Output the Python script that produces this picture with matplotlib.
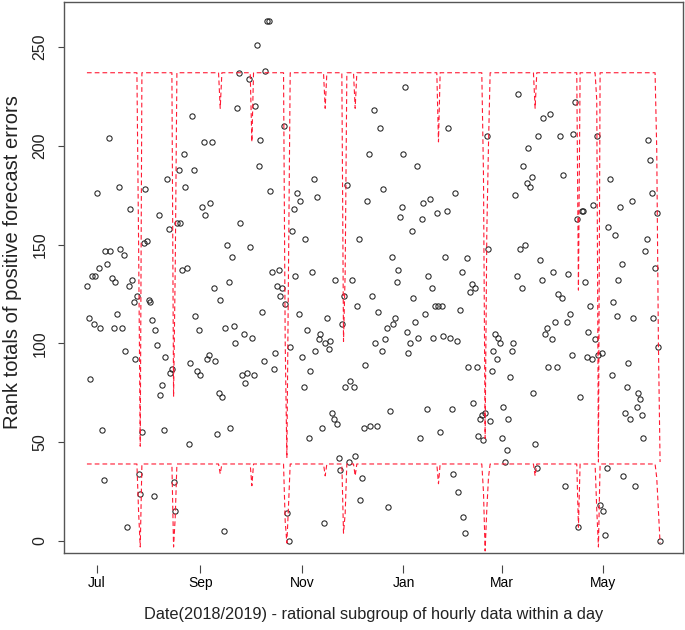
import numpy as np
import pandas as pd
import matplotlib
matplotlib.use("Agg")
import matplotlib.pyplot as plt
import matplotlib.dates as mdates

plt.rcParams['font.family'] = ['Liberation Sans', 'DejaVu Sans']
plt.rcParams['lines.scale_dashes'] = False

# ---- data: one rank total per day, starting 2018-06-25 ----
start_date = "2018-06-25"

rank_jul_sep_2018 = [
    129, 113, 82, 134, 110, 134, 176, 138, 108, 56,
    31, 147, 140, 204, 147, 133, 108, 131, 115, 179,
    148, 108, 145, 96, 7, 129, 168, 132, 121, 92,
    124, 34, 24, 55, 151, 178, 152, 122, 121, 112,
    23, 107, 99, 165, 74, 79, 56, 93, 183, 158,
    85, 87, 30, 15, 161, 188, 161, 137, 196, 179,
    138, 49, 90, 215, 188, 114, 86, 107, 84, 169,
    202, 165, 92, 94, 171, 202, 128, 91, 54, 75,
    122, 73, 5, 108, 150, 131, 57, 144, 109, 100,
    219, 237, 161, 84, 105, 80, 85, 234]

rank_oct_dec_2018 = [
    149, 103,
    84, 220, 251, 190, 203, 116, 91, 238, 263, 263,
    177, 136, 87, 95, 129, 137, 124, 128, 210, 120,
    14, 0, 98, 157, 168, 134, 176, 115, 172, 93,
    78, 153, 107, 52, 86, 136, 183, 96, 174, 102,
    105, 57, 9, 100, 113, 97, 101, 65, 62, 132,
    59, 42, 36, 110, 124, 78, 180, 40, 81, 132,
    78, 43, 119, 153, 21, 32, 57, 89, 172, 196,
    58, 124, 218, 100, 58, 116, 209, 96, 178, 102,
    108, 17, 66, 144, 110, 113, 131, 137, 164, 169]

rank_jan_mar_2019 = [
    196, 230, 106, 95, 100, 157, 123, 111, 190, 103,
    52, 163, 171, 115, 67, 134, 173, 128, 103, 119,
    166, 119, 55, 119, 104, 144, 167, 209, 103, 67,
    34, 176, 101, 25, 117, 136, 12, 4, 143, 88,
    126, 130, 70, 128, 88, 53, 62, 64, 51, 65,
    205, 148, 61, 86, 96, 105, 92, 103, 100, 52,
    68, 40, 46, 62, 83, 96, 100, 175, 134, 226,
    148, 128, 190, 150, 181, 199, 179, 184, 75, 49,
    37, 205, 142, 132, 214, 105, 108, 88, 216, 102]

rank_apr_jun_2019 = [
    136, 111, 88, 125, 205, 123, 185, 28, 111, 135,
    115, 94, 206, 222, 163, 7, 73, 167, 167, 131,
    93, 106, 119, 92, 170, 102, 205, 94, 18, 95,
    15, 3, 37, 159, 183, 84, 121, 155, 114, 132,
    169, 140, 33, 65, 78, 90, 62, 172, 113, 28,
    68, 75, 72, 64, 52, 147, 153, 203, 193, 176,
    113, 138, 166, 98, 0]

# control limits (constant, with dips on days with smaller subgroups)
ucl_base = 237
lcl_base = 39
dip_days = [31, 32, 52, 53, 80, 99, 119, 120, 121, 143, 154, 155, 161, 211,
            238, 239, 240, 241, 269, 295, 306, 307, 342, 343, 344]
ucl_dip_vals = [152, 48, 73, 138, 219, 202, 101, 42, 142, 219, 101, 136, 219, 202,
                186, 52, 156, 200, 219, 127, 223, 40, 198, 100, 40]
lcl_dip_vals = [15, -3, -3, 12, 34, 28, 10, -1, 18, 33, 4, 14, 33, 29,
                25, -5, 16, 32, 33, 7, 16, -3, 32, 15, -1]

month_ticks = ["2018-07-01", "2018-09-01", "2018-11-01", "2019-01-01", "2019-03-01", "2019-05-01"]
month_labels = ["Jul", "Sep", "Nov", "Jan", "Mar", "May"]
y_ticks = [0, 50, 100, 150, 200, 250]

# ---- build series ----
values = np.array(rank_jul_sep_2018 + rank_oct_dec_2018 + rank_jan_mar_2019 + rank_apr_jun_2019, dtype=float)
dates = pd.date_range(start_date, periods=len(values), freq="D")
ucl = np.full(len(values), float(ucl_base))
lcl = np.full(len(values), float(lcl_base))
ucl[dip_days] = ucl_dip_vals
lcl[dip_days] = lcl_dip_vals

fig = plt.figure(figsize=(6.85, 6.30), dpi=100)
W, H = 685, 630
left, right, top, bottom = 64, 683, 2, 552.7
ax = fig.add_axes([left / W, 1 - bottom / H, (right - left) / W, (bottom - top) / H])

ax.plot(dates, values, linestyle="none", marker="o", markersize=3.8,
        markerfacecolor="none", markeredgecolor="#222222", markeredgewidth=0.75)
dash = (0, (3.4, 2.2))
ax.plot(dates, ucl, color="#ff1a33", linewidth=0.8, linestyle=dash)
ax.plot(dates, lcl, color="#ff1a33", linewidth=0.8, linestyle=dash)

x0 = mdates.date2num(dates[0])
span = mdates.date2num(dates[-1]) - x0
ax.set_xlim(x0 - 0.04 * span, x0 + 1.04 * span)
ax.set_ylim(-5.9, 272.8)

ax.set_xticks(mdates.date2num(pd.to_datetime(month_ticks)))
ax.set_xticklabels(month_labels, fontsize=12, color="#222222")
ax.set_yticks(y_ticks)
ax.set_yticklabels([str(v) for v in y_ticks], fontsize=11.5, color="#222222",
                   rotation=90, va="center")
ax.tick_params(axis="both", direction="out", width=0.8, color="#444444")
ax.tick_params(axis="x", length=6, pad=2)
ax.tick_params(axis="y", length=4, pad=8)

# x axis (ticks) sits slightly below the plot box, as in the reference
ax.spines["bottom"].set_position(("outward", 9))
ax.spines["bottom"].set_color("none")
ax.plot([0, 1], [0, 0], transform=ax.transAxes, color="#555555", linewidth=1.0,
        clip_on=False)
for name in ["left", "right", "top"]:
    ax.spines[name].set_color("#555555")
    ax.spines[name].set_linewidth(1.0)

ax.set_xlabel("Date(2018/2019) - rational subgroup of hourly data within a day",
              fontsize=11.8, color="#222222", labelpad=12)
ax.set_ylabel("Rank totals of positive forecast errors", fontsize=14.5,
              color="#222222")
ax.yaxis.set_label_coords(-0.068, (bottom - 262) / (bottom - top))

fig.savefig("out.png", dpi=100)
